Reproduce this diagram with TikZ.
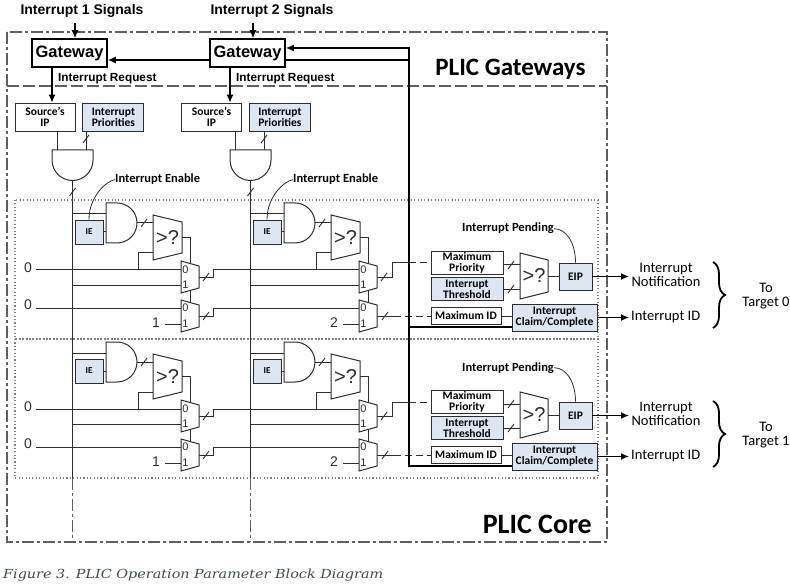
\documentclass[tikz,border=0pt]{standalone}
\usepackage{fontspec}
\setmainfont{Carlito}
\newfontfamily\arialfont{Liberation Sans}
\newfontfamily\figfont[FakeStretch=1.15]{DejaVu Serif}
\usetikzlibrary{shapes,arrows.meta,positioning,calc,decorations.pathreplacing}
\definecolor{regblue}{RGB}{220,231,243}
\definecolor{wire}{RGB}{45,45,45}
\definecolor{frame}{RGB}{95,95,95}
\definecolor{capgray}{RGB}{62,72,88}
\tikzstyle{reg} = [draw=wire, line width=0.9pt, fill=white, align=center, inner sep=0.5pt, font=\bfseries\fontsize{11.5}{11}\selectfont]
\tikzstyle{regb} = [reg, fill=regblue]
\tikzstyle{gw} = [draw=black, line width=1.6pt, fill=white, minimum width=75pt, minimum height=28pt, inner sep=0pt, font=\arialfont\bfseries\fontsize{16.5}{18}\selectfont]
\tikzstyle{gate} = [draw=wire, line width=1pt, fill=white]
\tikzstyle{wr} = [draw=wire, line width=1pt]
\tikzstyle{ctl} = [draw=black, line width=1.4pt]
\tikzstyle{tedge} = [draw=black, line width=1.3pt, -{Latex[length=8pt,width=7pt]}]
\tikzstyle{lbl} = [inner sep=0pt, font=\bfseries\fontsize{12.5}{14}\selectfont]
\tikzstyle{sig} = [inner sep=0pt, font=\arialfont\bfseries\fontsize{14}{16}\selectfont]
\tikzstyle{cmpsign} = [inner sep=0pt, text=wire, font=\arialfont\fontsize{20}{20}\selectfont]
\tikzstyle{muxsign} = [inner sep=0pt, text=wire, font=\arialfont\fontsize{11}{11}\selectfont]
\tikzstyle{const} = [inner sep=0pt, text=wire, font=\arialfont\fontsize{14}{14}\selectfont]
\tikzstyle{outtext} = [inner sep=0pt, align=center, font=\fontsize{14.5}{13.5}\selectfont]
\tikzstyle{frameline} = [draw=frame, line width=1.1pt, dash pattern=on 12pt off 3pt on 3pt off 3pt]
\tikzstyle{dotbox} = [draw=frame!80, line width=1.1pt, dash pattern=on 1.1pt off 2.3pt]
\tikzset{busmark/.pic={\draw[wire, line width=0.9pt] (-3pt,-4pt) -- (3pt,4pt);}}

\begin{document}
\begin{tikzpicture}[x=1pt, y=-1pt]
\useasboundingbox (0,0) rectangle (790,588);

% frames =============================
\draw[frameline] (7,32) rectangle (607,542);
\draw[draw=frame, line width=1.1pt, dash pattern=on 12pt off 4pt] (7,86) -- (607,86);
\draw[dotbox] (15,200) rectangle (598,339);
\draw[dotbox] (15,339) rectangle (598,478);
\node[anchor=base, inner sep=0pt, font=\bfseries\fontsize{25}{25}\selectfont] (gwtitle) at (510.5,76) {PLIC Gateways};
\node[anchor=base east, inner sep=0pt, font=\bfseries\fontsize{28}{28}\selectfont] (coretitle) at (592,533) {PLIC Core};

% target blocks =============================
\foreach \blk in {0,1}{
\begin{scope}[shift={(0,139*\blk)}]
  \foreach \col/\idx in {0/1,1/2}{
  \begin{scope}[shift={(178*\col,0)}]
    % enable and priority compare
    \node[regb, minimum width=28pt, minimum height=24pt, font=\bfseries\fontsize{9}{9}\selectfont] (ie-\col-\blk) at (89,232) {IE};
    \draw[gate] (106,203) -- (117,203) arc (90:-90:20pt) -- (106,243) -- cycle;
    \draw[wr] (72.5,214) -- (106,214);
    \draw[wr] (ie-\col-\blk.east) -- (106,232);
    \draw[gate] (153,215) -- (182,222) -- (182,253) -- (153,260) -- cycle;
    \node[cmpsign] (cmp-\col-\blk) at (167.5,237.5) {>?};
    \draw[wr] (137,223) -- (153,223);
    \path (144,223) pic {busmark};
    \draw[wr] (138,270) |- (153,253);
    \draw[wr] (182,237.5) -| (190,263.5);
    % muxes
    \draw[gate] (181,261) -- (199,266) -- (199,288) -- (181,293) -- cycle;
    \draw[gate] (181,300) -- (199,305) -- (199,327) -- (181,332) -- cycle;
    \node[muxsign] (mpa-\col-\blk) at (185.5,270) {0};
    \node[muxsign] (mpb-\col-\blk) at (185.5,285) {1};
    \node[muxsign] (mia-\col-\blk) at (185.5,308) {0};
    \node[muxsign] (mib-\col-\blk) at (185.5,324) {1};
    \draw[wr] (190,290.5) -- (190,302.5);
    \draw[wr] (72.5,285) -- (181,285);
    \node[const] (id-\col-\blk) at (156,323) {\idx};
    \draw[wr] (165,324) -- (181,324);
  \end{scope}}

  % maximum search output
  \node[reg, minimum width=72pt, minimum height=23pt] (maxpri-\blk) at (467,262.5) {Maximum\\Priority};
  \node[regb, minimum width=72pt, minimum height=23pt, below=3pt of maxpri-\blk] (thr-\blk) {Interrupt\\Threshold};
  \draw[gate] (520,253) -- (548,260) -- (548,292) -- (520,299) -- cycle;
  \node[cmpsign] (cmpr-\blk) at (534,276) {>?};
  \draw[wr] (maxpri-\blk.east |- 0,265) -- (520,265);
  \path (511,265) pic {busmark};
  \draw[wr] (thr-\blk.east |- 0,289) -- (520,289);
  \path (511,289) pic {busmark};
  \node[regb, minimum width=33pt, minimum height=27pt] (eip-\blk) at (575.5,276.5) {EIP};
  \draw[wr] (548,276.5) -- (eip-\blk.west);
  \draw[tedge] (eip-\blk.east) -- (629,276.5);
  \node[outtext] (notif-\blk) at (666,275) {Interrupt\\Notification};
  \node[reg, minimum width=70pt, minimum height=17pt] (maxid-\blk) at (466,316) {Maximum ID};
  \node[regb, minimum width=85pt, minimum height=27pt] (claim-\blk) at (554.5,317.5) {Interrupt\\Claim/Complete};
  \draw[wr] (maxid-\blk.east) -- (claim-\blk.west |- maxid-\blk.east);
  \draw[tedge] (claim-\blk.east) -- (629,317.5);
  \node[outtext, anchor=west] (irqid-\blk) at (631,317.5) {Interrupt ID};
  \draw[decorate, decoration={brace, amplitude=12pt}, line width=1.8pt] (713,262) -- (713,328);
  \node[outtext] (tgt-\blk) at (766,296) {To\\Target \blk};
  \node[lbl, anchor=base west] (pend-\blk) at (462,232) {Interrupt Pending};
  \draw[wr, line width=0.8pt] (pend-\blk.east) .. controls +(12pt,0pt) and +(0pt,20pt) .. (eip-\blk.north);

  % inputs and chaining
  \node[const] (za-\blk) at (28,268) {0};
  \node[const] (zb-\blk) at (28,305) {0};
  \draw[wr] (36,270) -- (181,270);
  \draw[wr] (36,308) -- (181,308);
  \draw[wr] (199,277) -- (213,277) -- (213,270) -- (359,270);
  \path (206,277) pic {busmark};
  \draw[wr] (199,316) -- (213,316) -- (213,308) -- (359,308);
  \path (206,316) pic {busmark};
  \draw[wr] (377,277) -- (392,277) -- (392,263) -- (409,263);
  \path (384,277) pic {busmark};
  \draw[wr, dash pattern=on 7pt off 4pt] (409,263) -- (maxpri-\blk.west |- 0,263);
  \draw[wr] (377,316) -- (394,316);
  \path (385,316) pic {busmark};
  \draw[wr, dash pattern=on 7pt off 4pt] (394,316) -- (maxid-\blk.west);
\end{scope}}

% gateways =============================
\node[sig] (sig1) at (82,11) {Interrupt 1 Signals};
\node[sig] (sig2) at (272,11) {Interrupt 2 Signals};
\node[gw] (gw1) at (69.5,53) {Gateway};
\node[gw] (gw2) at (247.5,53) {Gateway};
\node[reg, minimum width=60pt, minimum height=28pt] (sip1) at (45,117) {Source’s\\IP};
\node[regb, minimum width=61pt, minimum height=28pt, right=7pt of sip1] (prio1) {Interrupt\\Priorities};
\node[reg, minimum width=60pt, minimum height=28pt] (sip2) at (211.5,117) {Source’s\\IP};
\node[regb, minimum width=61pt, minimum height=28pt, right=7pt of sip2] (prio2) {Interrupt\\Priorities};
\node[anchor=base west, inner sep=0pt, font=\arialfont\bfseries\fontsize{11.8}{12}\selectfont] (req1) at (58,82) {Interrupt Request};
\node[anchor=base west, inner sep=0pt, font=\arialfont\bfseries\fontsize{11.8}{12}\selectfont] (req2) at (236,82) {Interrupt Request};

% edges
\draw[tedge, line width=1.1pt, shorten <=5pt] (sig1.south -| 75,0) -- (gw1.north -| 75,0);
\draw[tedge, line width=1.1pt, shorten <=5pt] (sig2.south -| 253,0) -- (gw2.north -| 253,0);
\draw[tedge, line width=1.1pt] (gw1.south -| 52,0) -- (sip1.north -| 52,0);
\draw[tedge, line width=1.1pt] (gw2.south -| 230,0) -- (sip2.north -| 230,0);
\draw[tedge, line width=1.4pt] (claim-1.west |- 0,466) -- (409,466) -- (409,48) -- (gw2.east |- 0,48);
\draw[ctl] (409,327) -- (claim-0.west |- 0,327);
\draw[ctl] (409,60) -- (gw2.east |- 0,60);
\draw[tedge, line width=1.4pt] (gw2.west |- 0,60) -- (gw1.east |- 0,60);

% source gates and buses
\foreach \col/\idx in {0/1,1/2}{
\begin{scope}[shift={(178*\col,0)}]
  \draw[gate] (52,150) -- (93,150) -- (93,160) arc (0:-180:20.5pt) -- cycle;
  \draw[wr] (sip\idx.south -| 57,0) -- (57,150);
  \draw[wr] (prio\idx.south -| 86,0) -- (86,150);
  \path (86,139) pic {busmark};
  \draw[wr] (72.5,180.5) -- (72.5,478);
  \draw[frameline] (72.5,478) -- (72.5,542);
  \path (72.5,192) pic {busmark};
  \node[lbl, anchor=base west] (enlbl-\idx) at (115,183) {Interrupt Enable};
  \draw[wr, line width=0.8pt] (ie-\col-0.north) .. controls +(0pt,22pt) and +(-10pt,-2pt) .. (enlbl-\idx.west);
\end{scope}}

\node[anchor=base west, inner sep=0pt, text=capgray, font=\figfont\itshape\fontsize{12.5}{12.5}\selectfont] (caption) at (3,578) {Figure 3. PLIC Operation Parameter Block Diagram};

\end{tikzpicture}
\end{document}
